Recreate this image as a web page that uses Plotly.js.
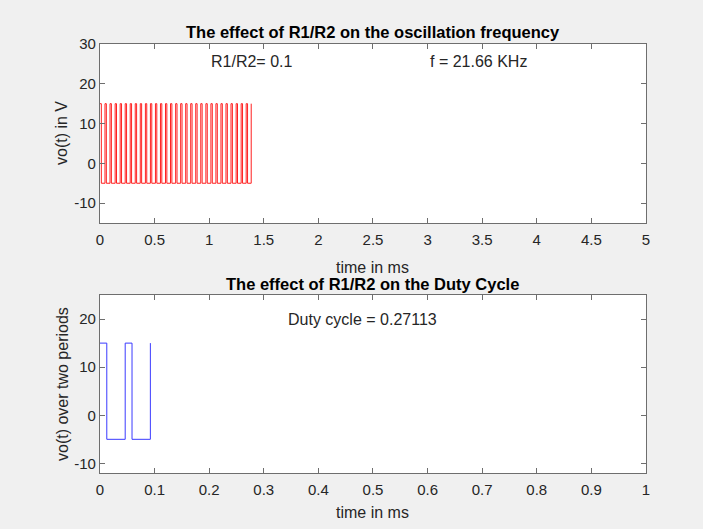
<!DOCTYPE html>
<html><head><meta charset="utf-8">
<script src="https://cdn.plot.ly/plotly-3.0.1.min.js"></script>
<style>html,body{margin:0;padding:0;background:#f0f0f0;}</style>
</head><body><div id="chart" style="width:703px;height:529px;"></div>
<script>
// Top plot: rising-edge times (ms) of the square wave
const topRiseTimes = [0, 0.046, 0.092, 0.139, 0.185, 0.231, 0.277, 0.323, 0.369, 0.416,
  0.462, 0.508, 0.554, 0.600, 0.646, 0.693, 0.739, 0.785, 0.831, 0.877,
  0.923, 0.970, 1.016, 1.062, 1.108, 1.154, 1.200, 1.247, 1.293, 1.339, 1.385];
const topHighWidth = 0.0125;   // ms spent at the high level each period
// Bottom plot: two periods
const botRiseTimes = [0, 0.0462, 0.0923];
const botHighWidth = 0.0125;
const vHigh = 15, vLow = -5;
const topTitle = "The effect of R1/R2 on the oscillation frequency";
const botTitle = "The effect of R1/R2 on the Duty Cycle";
const topNotes = [{x: 1, y: 25.5, text: "R1/R2= 0.1"}, {x: 3, y: 25.5, text: "f = 21.66 KHz"}];
const botNotes = [{x: 0.34, y: 20, text: "Duty cycle = 0.27113"}];
const topXTicks = [0, 0.5, 1, 1.5, 2, 2.5, 3, 3.5, 4, 4.5, 5];
const topYTicks = [-10, 0, 10, 20, 30];
const botXTicks = [0, 0.1, 0.2, 0.3, 0.4, 0.5, 0.6, 0.7, 0.8, 0.9, 1];
const botYTicks = [-10, 0, 10, 20];

function squareWave(rises, w) {
  const xs = [], ys = [];
  rises.forEach((t, i) => {
    xs.push(t); ys.push(i === 0 ? vHigh : vLow);
    xs.push(t); ys.push(vHigh);
    if (i < rises.length - 1) {
      xs.push(t + w); ys.push(vHigh);
      xs.push(t + w); ys.push(vLow);
    }
  });
  return {xs, ys};
}
const tw = squareWave(topRiseTimes, topHighWidth);
const bw = squareWave(botRiseTimes, botHighWidth);

const font = {family: "Arial, Liberation Sans, sans-serif", color: "#262626"};
function axis(extra) {
  return Object.assign({
    showgrid: false, zeroline: false, showline: true, mirror: "ticks",
    linecolor: "#6e6e6e", linewidth: 1, ticks: "inside", ticklen: 5,
    tickcolor: "#6e6e6e", tickfont: Object.assign({size: 15}, font),
    tickmode: "array", fixedrange: true
  }, extra);
}
const tickText = a => a.map(v => String(v));

const dTop = [0.5784, 0.9168], dBot = [0.1059, 0.4423], dX = [0.1422, 0.9189];

const data = [
  {x: tw.xs, y: tw.ys, xaxis: "x", yaxis: "y", type: "scatter", mode: "lines",
   line: {color: "#ff2020", width: 1}, hoverinfo: "skip"},
  {x: bw.xs, y: bw.ys, xaxis: "x2", yaxis: "y2", type: "scatter", mode: "lines",
   line: {color: "#3a3aff", width: 1}, hoverinfo: "skip"}
];

const ann = [];
topNotes.forEach(n => ann.push({x: n.x, y: n.y, xref: "x", yref: "y", text: n.text,
  showarrow: false, xanchor: "left", yanchor: "middle", font: Object.assign({size: 16}, font)}));
botNotes.forEach(n => ann.push({x: n.x, y: n.y, xref: "x2", yref: "y2", text: n.text,
  showarrow: false, xanchor: "left", yanchor: "middle", font: Object.assign({size: 16}, font)}));
const mid = (dX[0] + dX[1]) / 2;
ann.push({x: mid, y: 1 - 32/529, xref: "paper", yref: "paper", text: "<b>" + topTitle + "</b>",
  showarrow: false, xanchor: "center", yanchor: "middle", font: Object.assign({size: 16.5}, font, {color: "#000"})});
ann.push({x: mid, y: 1 - 284/529, xref: "paper", yref: "paper", text: "<b>" + botTitle + "</b>",
  showarrow: false, xanchor: "center", yanchor: "middle", font: Object.assign({size: 16.5}, font, {color: "#000"})});
ann.push({x: mid, y: 1 - 267/529, xref: "paper", yref: "paper", text: "time in ms",
  showarrow: false, xanchor: "center", yanchor: "middle", font: Object.assign({size: 16}, font)});
ann.push({x: mid, y: 1 - 512/529, xref: "paper", yref: "paper", text: "time in ms",
  showarrow: false, xanchor: "center", yanchor: "middle", font: Object.assign({size: 16}, font)});
ann.push({x: 62/703, y: 1 - 133/529, xref: "paper", yref: "paper", text: "vo(t) in V", textangle: -90,
  showarrow: false, xanchor: "center", yanchor: "middle", font: Object.assign({size: 16}, font)});
ann.push({x: 62/703, y: 1 - 384/529, xref: "paper", yref: "paper", text: "vo(t) over two periods", textangle: -90,
  showarrow: false, xanchor: "center", yanchor: "middle", font: Object.assign({size: 16}, font)});

const layout = {
  width: 703, height: 529, margin: {l: 0, r: 0, t: 0, b: 0},
  paper_bgcolor: "#f0f0f0", plot_bgcolor: "#ffffff", showlegend: false,
  xaxis: axis({domain: dX, anchor: "y", range: [0, 5], tickvals: topXTicks, ticktext: tickText(topXTicks), ticklabelstandoff: 3}),
  yaxis: axis({domain: dTop, anchor: "x", range: [-15, 30], tickvals: topYTicks, ticktext: tickText(topYTicks)}),
  xaxis2: axis({domain: dX, anchor: "y2", range: [0, 1], tickvals: botXTicks, ticktext: tickText(botXTicks), ticklabelstandoff: 3}),
  yaxis2: axis({domain: dBot, anchor: "x2", range: [-12, 25], tickvals: botYTicks, ticktext: tickText(botYTicks)}),
  annotations: ann
};
Plotly.newPlot("chart", data, layout, {displayModeBar: false, staticPlot: true});
</script></body></html>
